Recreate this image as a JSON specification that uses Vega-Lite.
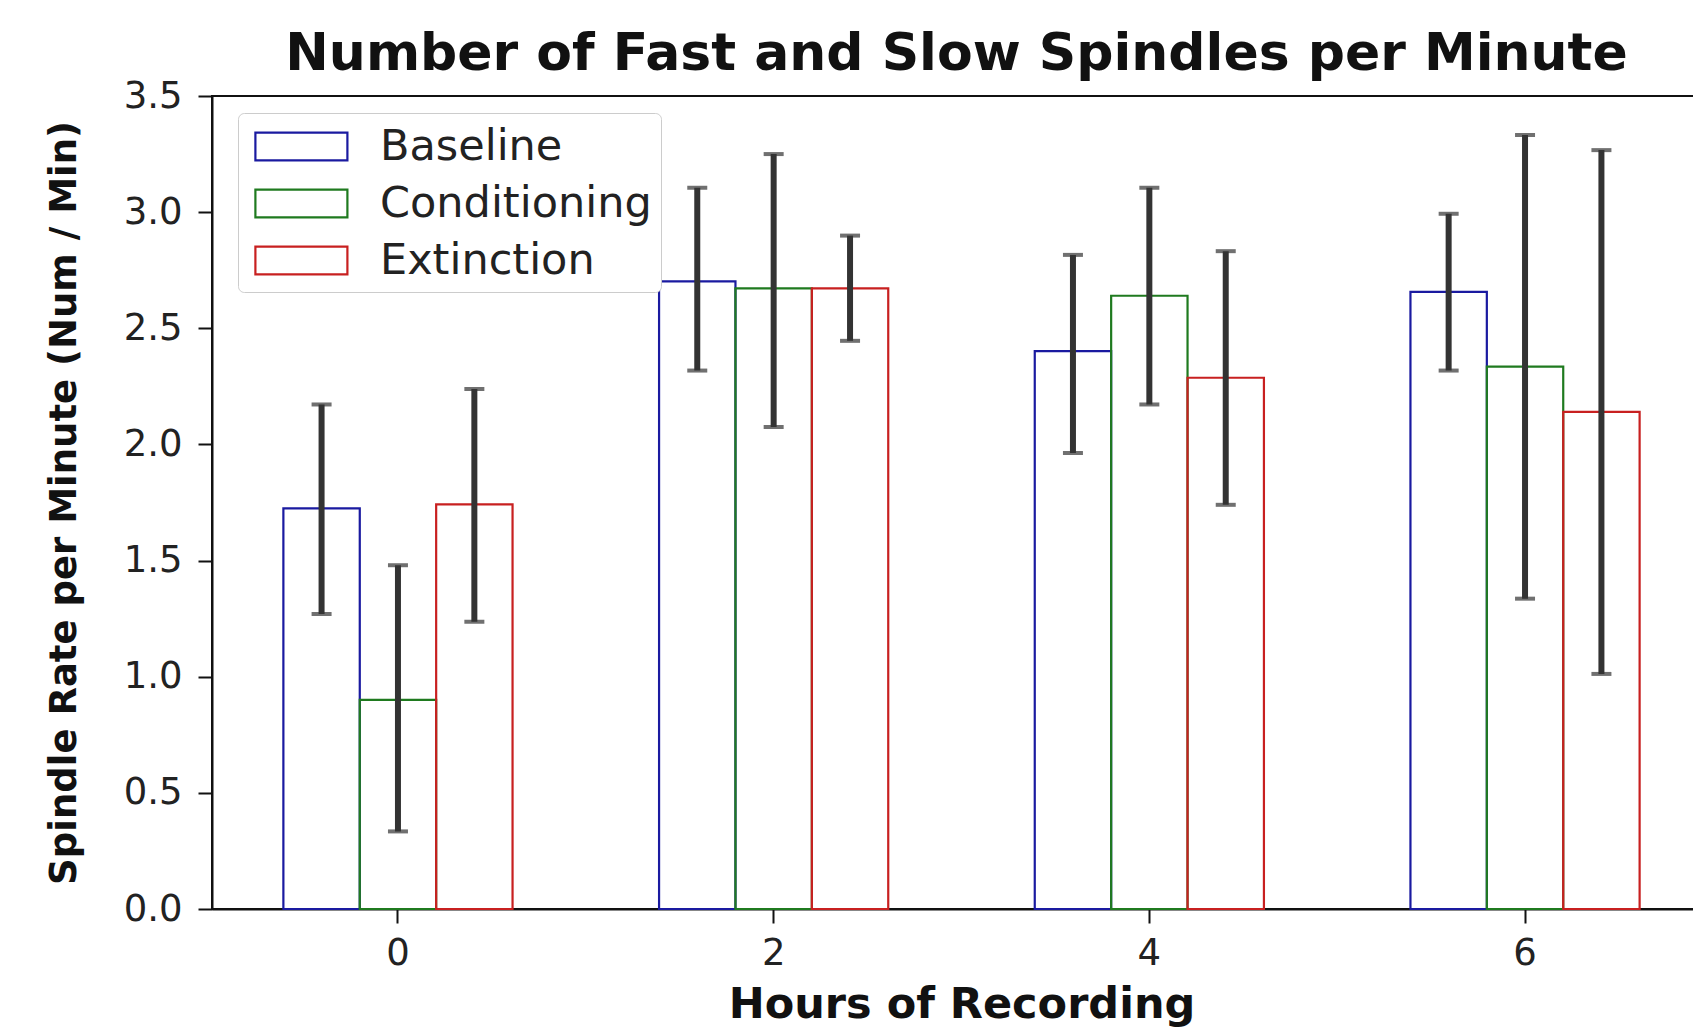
{
  "$schema": "https://vega.github.io/schema/vega-lite/v6.json",
  "autosize": {"type": "none"},
  "padding": {"left": 212, "top": 96, "right": 0, "bottom": 120},
  "width": 1499,
  "height": 813,
  "background": "white",
  "title": {
    "text": "Number of Fast and Slow Spindles per Minute",
    "font": "DejaVu Sans",
    "fontSize": 52,
    "fontWeight": "bold",
    "color": "#111111",
    "anchor": "middle",
    "frame": "group",
    "offset": -4,
    "dx": -5
  },
  "data": {
    "values": [
      {"hour": "0", "condition": "Baseline", "mean": 1.725, "lo": 1.27, "hi": 2.172},
      {"hour": "0", "condition": "Conditioning", "mean": 0.9, "lo": 0.334, "hi": 1.48},
      {"hour": "0", "condition": "Extinction", "mean": 1.742, "lo": 1.237, "hi": 2.239},
      {"hour": "2", "condition": "Baseline", "mean": 2.702, "lo": 2.318, "hi": 3.105},
      {"hour": "2", "condition": "Conditioning", "mean": 2.672, "lo": 2.075, "hi": 3.25},
      {"hour": "2", "condition": "Extinction", "mean": 2.672, "lo": 2.446, "hi": 2.899},
      {"hour": "4", "condition": "Baseline", "mean": 2.402, "lo": 1.963, "hi": 2.816},
      {"hour": "4", "condition": "Conditioning", "mean": 2.64, "lo": 2.172, "hi": 3.105},
      {"hour": "4", "condition": "Extinction", "mean": 2.287, "lo": 1.74, "hi": 2.832},
      {"hour": "6", "condition": "Baseline", "mean": 2.657, "lo": 2.318, "hi": 2.993},
      {"hour": "6", "condition": "Conditioning", "mean": 2.335, "lo": 1.336, "hi": 3.332},
      {"hour": "6", "condition": "Extinction", "mean": 2.14, "lo": 1.012, "hi": 3.267}
    ]
  },
  "encoding": {
    "x": {
      "field": "hour",
      "type": "ordinal",
      "sort": ["0", "2", "4", "6"],
      "scale": {"paddingInner": 0.39, "paddingOuter": 0.19},
      "axis": {
        "title": "Hours of Recording",
        "labelAngle": 0,
        "labelFontSize": 37,
        "labelPadding": 12,
        "titleFontSize": 43,
        "titlePadding": 12
      }
    },
    "xOffset": {
      "field": "condition",
      "type": "nominal",
      "sort": ["Baseline", "Conditioning", "Extinction"],
      "scale": {"paddingInner": 0, "paddingOuter": 0}
    }
  },
  "layer": [
    {
      "mark": {"type": "bar", "filled": false, "strokeWidth": 2.2, "fill": "transparent"},
      "encoding": {
        "y": {
          "field": "mean",
          "type": "quantitative",
          "scale": {"domain": [0, 3.5], "nice": false, "zero": true},
          "axis": {
            "title": "Spindle Rate per Minute (Num / Min)",
            "values": [0, 0.5, 1, 1.5, 2, 2.5, 3, 3.5],
            "format": ".1f",
            "labelFontSize": 37,
            "labelPadding": 16,
            "titleFontSize": 37,
            "titlePadding": 40
          }
        },
        "color": {
          "field": "condition",
          "type": "nominal",
          "sort": ["Baseline", "Conditioning", "Extinction"],
          "scale": {
            "domain": ["Baseline", "Conditioning", "Extinction"],
            "range": ["#1a1aa0", "#1f7a1f", "#c82020"]
          },
          "legend": {
            "title": null,
            "orient": "none",
            "legendX": 26,
            "legendY": 17,
            "symbolType": "M-0.7,-0.6H3.3V0.6H-0.7Z",
            "symbolSize": 2116,
            "symbolStrokeWidth": 2.2,
            "symbolFillColor": "transparent",
            "labelFontSize": 43,
            "labelFont": "DejaVu Sans",
            "labelColor": "#222222",
            "labelOffset": 84,
            "labelLimit": 600,
            "rowPadding": 10,
            "padding": 9,
            "strokeColor": "#cccccc",
            "fillColor": "white",
            "cornerRadius": 6
          }
        }
      }
    },
    {
      "mark": {"type": "rule", "color": "#333333", "strokeWidth": 6},
      "encoding": {
        "y": {"field": "lo", "type": "quantitative"},
        "y2": {"field": "hi"}
      }
    },
    {
      "mark": {"type": "tick", "color": "#333333", "orient": "horizontal", "size": 20, "thickness": 4},
      "encoding": {
        "y": {"field": "lo", "type": "quantitative"}
      }
    },
    {
      "mark": {"type": "tick", "color": "#333333", "orient": "horizontal", "size": 20, "thickness": 4},
      "encoding": {
        "y": {"field": "hi", "type": "quantitative"}
      }
    }
  ],
  "config": {
    "font": "DejaVu Sans",
    "view": {"stroke": "#111111", "strokeWidth": 2},
    "axis": {
      "grid": false,
      "domainColor": "#111111",
      "domainWidth": 2,
      "tickColor": "#111111",
      "tickWidth": 2,
      "tickSize": 14,
      "labelColor": "#222222",
      "labelFont": "DejaVu Sans",
      "titleFont": "DejaVu Sans",
      "titleFontWeight": "bold",
      "titleColor": "#111111"
    }
  }
}
